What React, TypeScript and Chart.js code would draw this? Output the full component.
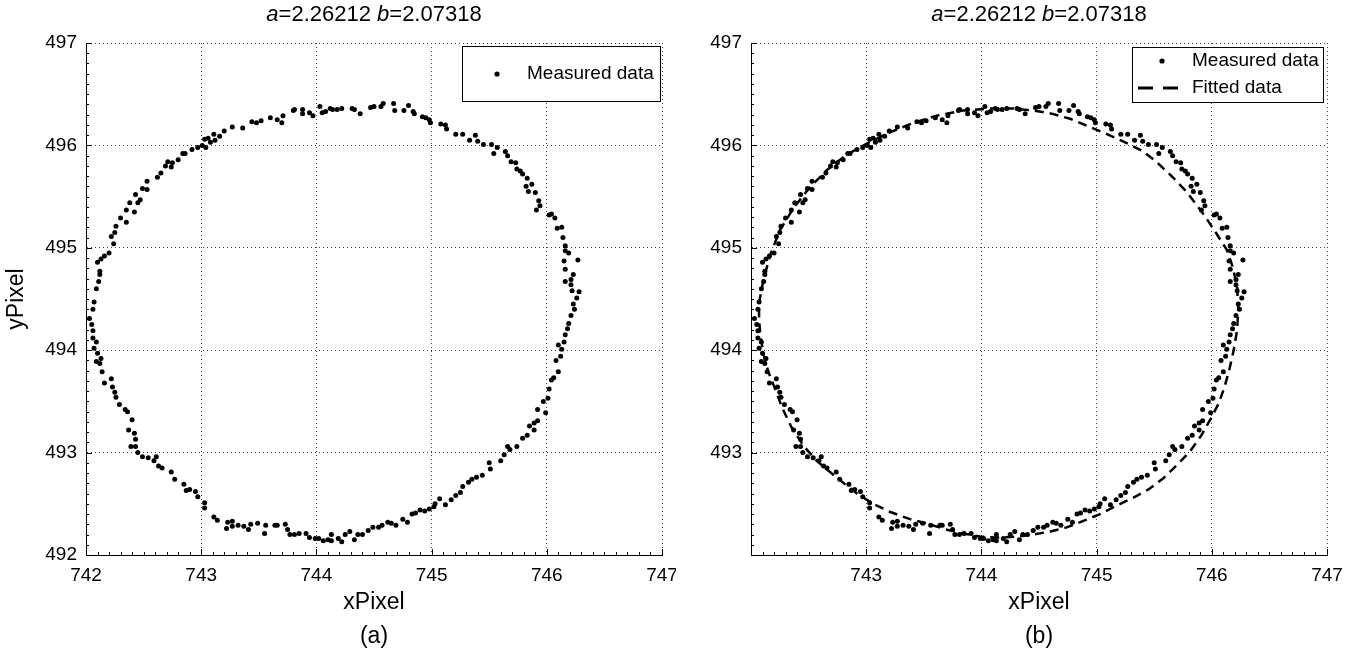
import React, { useEffect, useRef } from "react";
import { Chart, registerables } from "chart.js";
Chart.register(...registerables);

// ---------- data ----------
const measuredX = [
  742.06, 742.07, 742.09, 742.11, 742.12, 742.12, 742.10, 742.13, 742.16, 742.20,
  742.24, 742.22, 742.25, 742.26, 742.30, 742.35, 742.35, 742.38, 742.42, 742.45,
  742.43, 742.47, 742.49, 742.53, 742.53, 742.62, 742.65, 742.69, 742.71, 742.74,
  742.75, 742.80, 742.84, 742.86, 742.92, 742.97, 743.01, 743.04, 743.03, 743.06,
  743.08, 743.11, 743.12, 743.16, 743.20, 743.27, 743.36, 743.44, 743.48, 743.52,
  743.60, 743.66, 743.70, 743.71, 743.80, 743.81, 743.88, 743.88, 743.94, 743.97,
  744.03, 744.05, 744.08, 744.12, 744.14, 744.18, 744.22, 744.31, 744.33, 744.38,
  744.47, 744.50, 744.56, 744.58, 744.67, 744.68, 744.76, 744.80, 744.84, 744.85,
  744.92, 744.95, 744.98, 744.99, 745.08, 745.12, 745.13, 745.21, 745.27, 745.33,
  745.38, 745.40, 745.45, 745.52, 745.54, 745.57, 745.64, 745.66, 745.69, 745.73,
  745.74, 745.77, 745.79, 745.83, 745.82, 745.87, 745.84, 745.90, 745.93, 745.94,
  745.91, 746.02, 746.04, 746.07, 746.09, 746.13, 746.14, 746.16, 746.16, 746.19,
  746.27, 746.15, 746.16, 746.23, 746.16, 746.21, 746.21, 746.22, 746.28, 746.26,
  746.23, 746.24,
  746.21, 746.19, 746.18, 746.16, 746.15, 746.13, 746.10, 746.12, 746.08, 746.10,
  746.06, 746.04, 746.02, 746.01, 745.99, 745.97, 745.92, 745.92, 745.89, 745.89,
  745.85, 745.83, 745.79, 745.74, 745.68, 745.66, 745.63, 745.60, 745.51, 745.50,
  745.44, 745.39, 745.35, 745.32, 745.27, 745.25, 745.21, 745.17, 745.12, 745.07,
  745.03, 745.02, 744.98, 744.94, 744.90, 744.86, 744.83, 744.79, 744.75, 744.69,
  744.65, 744.62, 744.57, 744.54, 744.49, 744.45, 744.40, 744.36, 744.33, 744.29,
  744.25, 744.22, 744.19, 744.13, 744.13, 744.10, 744.06, 744.02, 743.99, 743.94,
  743.91, 743.85, 743.81, 743.77, 743.75, 743.73, 743.66, 743.64, 743.56, 743.55,
  743.49, 743.43, 743.41, 743.37, 743.32, 743.27, 743.27, 743.23, 743.22, 743.14,
  743.11, 743.03, 743.03, 742.97, 742.95, 742.90, 742.87, 742.85, 742.77, 742.74,
  742.66, 742.63, 742.59, 742.61, 742.54, 742.49, 742.45, 742.43, 742.39, 742.43,
  742.42, 742.37, 742.40, 742.36, 742.34, 742.29, 742.26, 742.25, 742.23, 742.22,
  742.16, 742.14, 742.12, 742.09, 742.13, 742.10, 742.07, 742.09, 742.06, 742.06,
  742.05, 742.03,
];
const measuredY = [
  494.40, 494.47, 494.60, 494.67, 494.74, 494.77, 494.86, 494.89, 494.92, 494.95,
  495.04, 495.11, 495.15, 495.21, 495.29, 495.25, 495.37, 495.44, 495.35, 495.44,
  495.52, 495.47, 495.58, 495.57, 495.65, 495.69, 495.73, 495.80, 495.84, 495.79,
  495.83, 495.86, 495.92, 495.92, 495.96, 495.98, 496.00, 495.98, 496.06, 496.07,
  496.03, 496.11, 496.05, 496.09, 496.14, 496.18, 496.17, 496.23, 496.22, 496.24,
  496.27, 496.25, 496.22, 496.29, 496.34, 496.35, 496.35, 496.31, 496.32, 496.29,
  496.38, 496.32, 496.33, 496.36, 496.35, 496.35, 496.36, 496.36, 496.35, 496.31,
  496.37, 496.38, 496.38, 496.41, 496.41, 496.34, 496.34, 496.39, 496.33, 496.31,
  496.28, 496.27, 496.25, 496.22, 496.21, 496.20, 496.16, 496.11, 496.11, 496.05,
  496.10, 496.04, 496.01, 496.01, 495.92, 495.98, 495.94, 495.90, 495.84, 495.83,
  495.77, 495.75, 495.72, 495.68, 495.60, 495.62, 495.55, 495.54, 495.46, 495.41,
  495.37, 495.32, 495.33, 495.29, 495.19, 495.20, 495.10, 495.02, 494.97, 494.95,
  494.88, 494.87, 494.79, 494.74, 494.67, 494.69, 494.64, 494.58, 494.57, 494.51,
  494.45, 494.40,
  494.34, 494.26, 494.21, 494.15, 494.08, 494.01, 494.05, 493.94, 493.90, 493.79,
  493.73, 493.71, 493.62, 493.53, 493.39, 493.50, 493.42, 493.31, 493.29, 493.22,
  493.26, 493.17, 493.14, 493.06, 493.03, 493.06, 492.98, 492.92, 492.84, 492.90,
  492.78, 492.76, 492.74, 492.71, 492.67, 492.61, 492.58, 492.54, 492.49, 492.55,
  492.50, 492.47, 492.45, 492.43, 492.44, 492.41, 492.40, 492.32, 492.35, 492.29,
  492.31, 492.32, 492.29, 492.27, 492.27, 492.24, 492.20, 492.20, 492.15, 492.23,
  492.20, 492.13, 492.16, 492.14, 492.20, 492.15, 492.14, 492.16, 492.16, 492.17,
  492.21, 492.21, 492.20, 492.20, 492.25, 492.30, 492.29, 492.29, 492.29, 492.21,
  492.31, 492.30, 492.25, 492.28, 492.29, 492.28, 492.33, 492.32, 492.26, 492.34,
  492.37, 492.46, 492.51, 492.57, 492.62, 492.64, 492.63, 492.69, 492.74, 492.81,
  492.85, 492.87, 492.92, 492.96, 492.95, 492.96, 493.00, 493.06, 493.06, 493.13,
  493.19, 493.22, 493.32, 493.40, 493.42, 493.47, 493.54, 493.59, 493.64, 493.72,
  493.68, 493.79, 493.87, 493.89, 493.92, 493.97, 494.02, 494.08, 494.12, 494.19,
  494.25, 494.31,
];
const fittedX = [
  742.07, 742.11, 742.17, 742.25, 742.37, 742.51, 742.66, 742.83, 743.01, 743.21,
  743.41, 743.61, 743.84, 744.08, 744.28, 744.45, 744.61, 744.77, 744.94, 745.09,
  745.23, 745.39, 745.51, 745.66, 745.78, 745.94, 746.04, 746.13, 746.18, 746.22,
  746.23, 746.22, 746.19, 746.15, 746.11, 746.06, 745.99, 745.91, 745.81, 745.69,
  745.58, 745.45, 745.32, 745.17, 745.03, 744.88, 744.74, 744.60, 744.45, 744.31,
  744.13, 743.99, 743.84, 743.69, 743.55, 743.38, 743.21, 743.06, 742.92, 742.75,
  742.57, 742.46, 742.35, 742.27, 742.21, 742.15, 742.11, 742.08, 742.07, 742.07,
];
const fittedY = [
  494.46, 494.70, 494.94, 495.17, 495.39, 495.59, 495.76, 495.91, 496.02, 496.13,
  496.22, 496.29, 496.34, 496.36, 496.36, 496.34, 496.31, 496.26, 496.18, 496.11,
  496.04, 495.95, 495.85, 495.69, 495.55, 495.31, 495.14, 494.98, 494.82, 494.62,
  494.40, 494.20, 494.00, 493.80, 493.64, 493.48, 493.33, 493.17, 493.01, 492.87,
  492.75, 492.64, 492.56, 492.48, 492.40, 492.33, 492.27, 492.23, 492.20, 492.18,
  492.17, 492.18, 492.21, 492.25, 492.30, 492.35, 492.42, 492.50, 492.60, 492.75,
  492.92, 493.06, 493.25, 493.44, 493.62, 493.79, 493.95, 494.16, 494.30, 494.46,
];
const xTicks = [742, 743, 744, 745, 746, 747];
const yTicks = [492, 493, 494, 495, 496, 497];
const titleA = "2.26212";
const titleB = "2.07318";
const legendLabels = ["Measured data", "Fitted data"];
const axisLabels = ["xPixel", "yPixel"];
const panelLabels = ["(a)", "(b)"];

const FONT = "'Liberation Sans', Arial, Helvetica, sans-serif";

function decorPlugin(isB: boolean) {
  return {
    id: "decor",
    afterDraw(chart: any) {
      const { ctx, chartArea: ca } = chart;
      const xs = chart.scales.x;
      const ys = chart.scales.y;
      ctx.save();
      // inward ticks (major + minor)
      ctx.strokeStyle = "#000";
      ctx.lineWidth = 1;
      ctx.beginPath();
      const x0 = xTicks[0], x1 = xTicks[xTicks.length - 1];
      const nX = Math.round((x1 - x0) * 10);
      for (let i = 0; i <= nX; i++) {
        const px = Math.round(xs.getPixelForValue(x0 + i / 10)) + 0.5;
        const len = i % 10 === 0 ? 6 : 3;
        ctx.moveTo(px, ca.bottom);
        ctx.lineTo(px, ca.bottom - len);
      }
      const y0 = yTicks[0], y1 = yTicks[yTicks.length - 1];
      const nY = Math.round((y1 - y0) * 10);
      for (let i = 0; i <= nY; i++) {
        const py = Math.round(ys.getPixelForValue(y0 + i / 10)) + 0.5;
        const len = i % 10 === 0 ? 6 : 3;
        ctx.moveTo(ca.left, py);
        ctx.lineTo(ca.left + len, py);
      }
      ctx.stroke();

      // title with italic a / b
      const cx = (ca.left + ca.right) / 2;
      const parts: [string, boolean][] = [
        ["a", true],
        ["=" + titleA + " ", false],
        ["b", true],
        ["=" + titleB, false],
      ];
      const fN = `22px ${FONT}`;
      const fI = `italic 22px ${FONT}`;
      let total = 0;
      const widths = parts.map(([t, it]) => {
        ctx.font = it ? fI : fN;
        const w = ctx.measureText(t).width;
        total += w;
        return w;
      });
      ctx.fillStyle = "#000";
      ctx.textBaseline = "middle";
      ctx.textAlign = "left";
      let tx = cx - total / 2;
      parts.forEach(([t, it], i) => {
        ctx.font = it ? fI : fN;
        ctx.fillText(t, tx, 15);
        tx += widths[i];
      });

      // axis labels
      ctx.font = `23px ${FONT}`;
      ctx.textAlign = "center";
      ctx.fillText(axisLabels[0], cx, 603);
      ctx.fillText(isB ? panelLabels[1] : panelLabels[0], cx, 637);
      if (!isB) {
        ctx.save();
        ctx.translate(17, (ca.top + ca.bottom) / 2);
        ctx.rotate(-Math.PI / 2);
        ctx.fillText(axisLabels[1], 0, 0);
        ctx.restore();
      }

      // legend
      const lg = isB ? { x: 456, y: 47, w: 191, h: 55 } : { x: 462, y: 46, w: 198, h: 55 };
      ctx.fillStyle = "#fff";
      ctx.fillRect(lg.x, lg.y, lg.w, lg.h);
      ctx.strokeStyle = "#000";
      ctx.lineWidth = 1;
      ctx.strokeRect(lg.x + 0.5, lg.y + 0.5, lg.w, lg.h);
      ctx.fillStyle = "#000";
      ctx.font = `19px ${FONT}`;
      ctx.textAlign = "left";
      if (!isB) {
        ctx.beginPath();
        ctx.arc(497, 74, 2.6, 0, Math.PI * 2);
        ctx.fill();
        ctx.fillText(legendLabels[0], 527, 74);
      } else {
        ctx.beginPath();
        ctx.arc(486, 61, 2.6, 0, Math.PI * 2);
        ctx.fill();
        ctx.fillText(legendLabels[0], 516, 61);
        ctx.save();
        ctx.lineWidth = 3;
        ctx.setLineDash([15, 10]);
        ctx.beginPath();
        ctx.moveTo(462, 88);
        ctx.lineTo(503, 88);
        ctx.stroke();
        ctx.restore();
        ctx.fillText(legendLabels[1], 516, 88);
      }
      ctx.restore();
    },
  };
}

function Panel({ which }: { which: "a" | "b" }) {
  const ref = useRef<HTMLCanvasElement>(null);
  useEffect(() => {
    const isB = which === "b";
    const datasets: any[] = [];
    if (isB) {
      datasets.push({
        label: legendLabels[1],
        data: fittedX.map((x, i) => ({ x, y: fittedY[i] })),
        showLine: true,
        borderColor: "#000",
        borderWidth: 2.5,
        borderDash: [9, 6],
        pointRadius: 0,
        fill: false,
        tension: 0,
      });
    }
    datasets.push({
      label: legendLabels[0],
      data: measuredX.map((x, i) => ({ x, y: measuredY[i] })),
      showLine: false,
      pointRadius: 2.5,
      pointBackgroundColor: "#000",
      pointBorderColor: "#000",
      pointBorderWidth: 0,
    });
    const tickFont = { family: FONT, size: 19 };
    const chart = new Chart(ref.current as HTMLCanvasElement, {
      type: "scatter",
      data: { datasets },
      options: {
        animation: false,
        responsive: false,
        devicePixelRatio: 1,
        layout: { padding: { top: 43, right: isB ? 25 : 14, left: 0, bottom: 0 } },
        plugins: {
          legend: { display: false },
          title: { display: false },
          tooltip: { enabled: false },
        },
        scales: {
          x: {
            type: "linear",
            position: "bottom",
            min: xTicks[0],
            max: xTicks[xTicks.length - 1],
            afterBuildTicks: (s: any) => {
              s.ticks = xTicks.map((v) => ({ value: v }));
            },
            ticks: {
              font: tickFont,
              color: "#000",
              padding: 9,
              maxRotation: 0,
              autoSkip: false,
              callback: (v: any) => (isB && v === xTicks[0] ? "" : String(v)),
            },
            grid: { color: "#444", lineWidth: 1, drawTicks: false },
            border: { display: true, color: "#000", width: 1, dash: [1, 3] },
            afterFit: (s: any) => {
              s.height = 100;
              s.paddingLeft = 0;
              s.paddingRight = 0;
            },
          },
          y: {
            type: "linear",
            position: "left",
            min: yTicks[0],
            max: yTicks[yTicks.length - 1],
            afterBuildTicks: (s: any) => {
              s.ticks = yTicks.map((v) => ({ value: v }));
            },
            ticks: {
              font: tickFont,
              color: "#000",
              padding: 9,
              autoSkip: false,
              callback: (v: any) => (isB && v === yTicks[0] ? "" : String(v)),
            },
            grid: { color: "#444", lineWidth: 1, drawTicks: false },
            border: { display: true, color: "#000", width: 1, dash: [1, 3] },
            afterFit: (s: any) => {
              s.width = isB ? 75 : 86;
              s.paddingTop = 0;
              s.paddingBottom = 0;
            },
          },
        },
      } as any,
      plugins: [decorPlugin(isB)],
    });
    return () => chart.destroy();
  }, [which]);
  return (
    <canvas
      ref={ref}
      width={676}
      height={655}
      style={{ position: "absolute", top: 0, left: which === "a" ? 0 : 676, width: 676, height: 655 }}
    />
  );
}

export default function App() {
  return (
    <div style={{ position: "absolute", left: 0, top: 0, width: 1352, height: 655, background: "#fff" }}>
      <Panel which="a" />
      <Panel which="b" />
    </div>
  );
}
